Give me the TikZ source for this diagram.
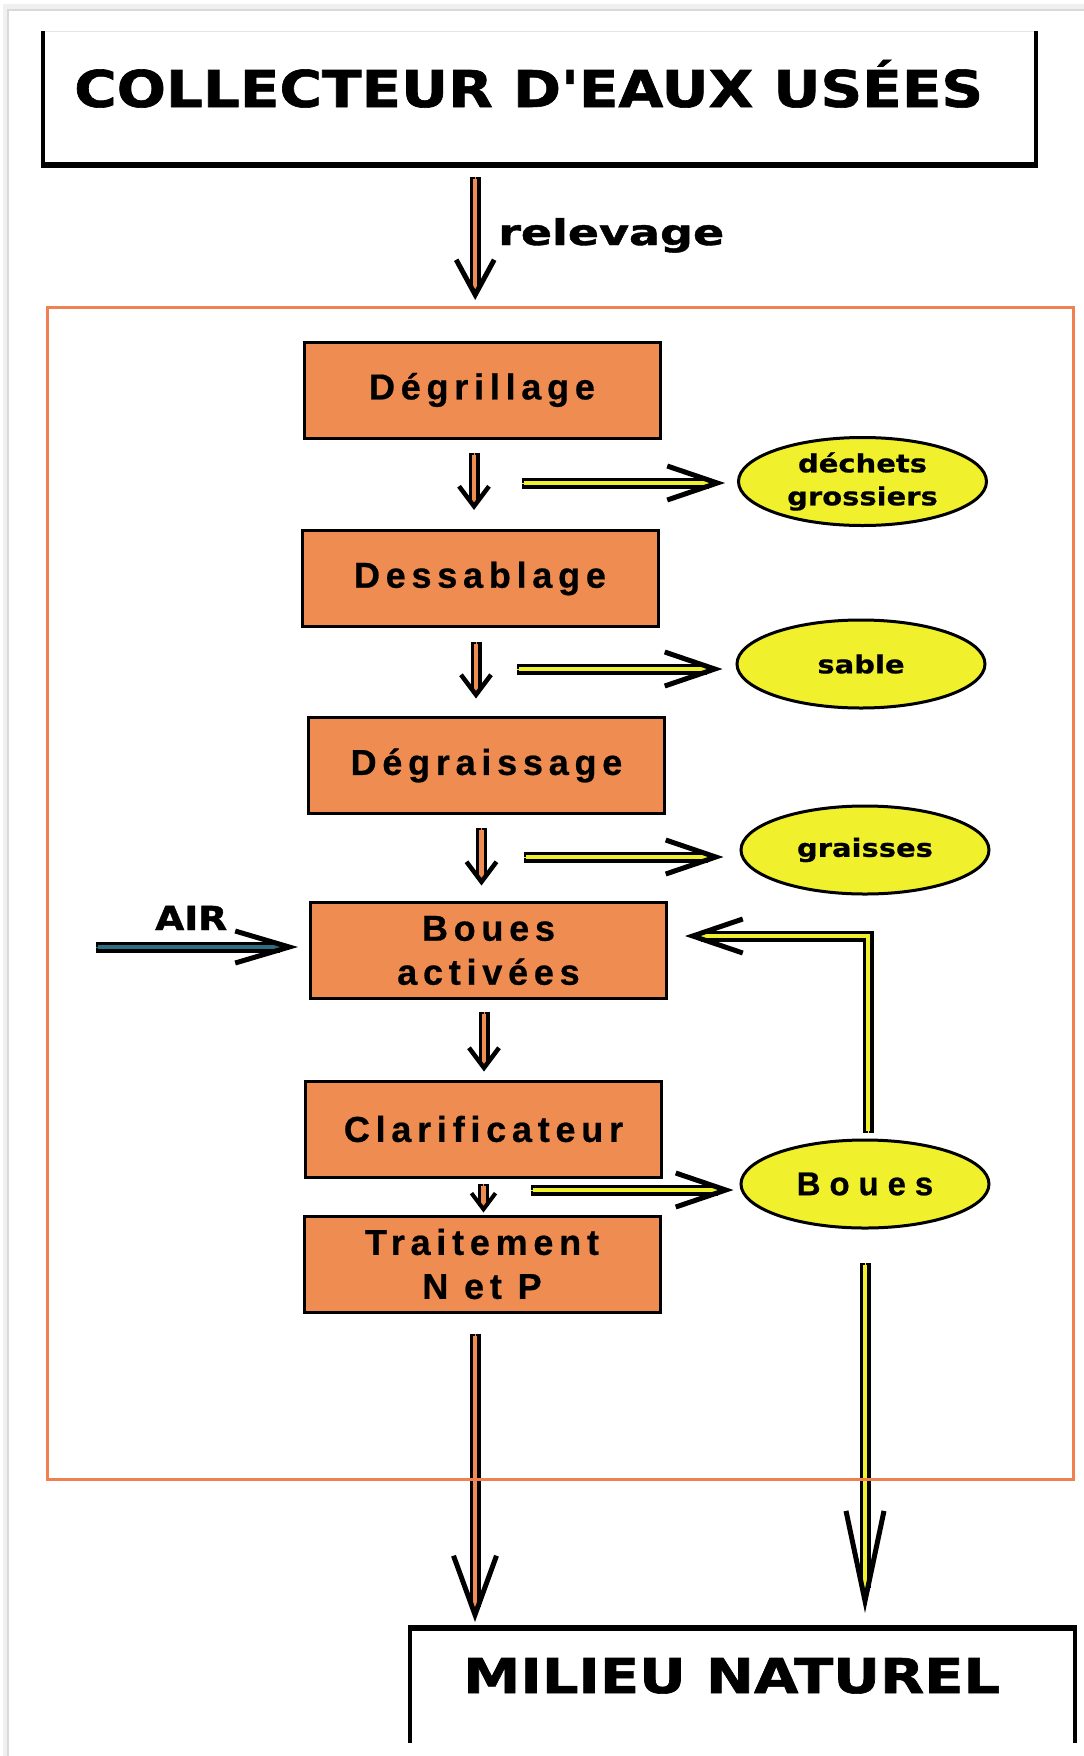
\documentclass[tikz,border=0pt]{standalone}
\usepackage{fontspec}
\usepackage{graphicx}
\usetikzlibrary{arrows.meta,calc,shapes.geometric}
\setmainfont{Liberation Sans}
\newfontfamily\boxfont[LetterSpace=16,FakeBold=0.6]{Liberation Sans}
\newfontfamily\bouesfont[LetterSpace=27,FakeBold=0.6]{Liberation Sans}
\newfontfamily\heavy[FakeBold=1.2]{DejaVu Sans}
\newfontfamily\heavywide[FakeStretch=1.16,FakeBold=0.6]{DejaVu Sans}
\definecolor{boxorange}{RGB}{238,140,82}
\definecolor{frameorange}{RGB}{240,128,80}
\definecolor{ylw}{RGB}{240,240,45}
\definecolor{airteal}{RGB}{45,110,130}
% #1 inner colour, #2 start, #3 tip, #4 tip style, #5 shaft shortening
\newcommand\flow[5]{%
  \draw[pipeout, shorten >=#5] (#2) -- (#3);
  \draw[pipein=#1, shorten >=#5] (#2) -- (#3);
  \draw[draw=#1, line width=0.5pt, #4] (#2) -- (#3);
}
\begin{document}
\begin{tikzpicture}[x=1pt,y=-1pt,
  proc/.style={rectangle, draw=black, line width=3pt, fill=boxorange,
    minimum width=356pt, minimum height=96pt, inner sep=0pt, align=center,
    font=\boxfont\bfseries\fontsize{36}{44}\selectfont},
  outcome/.style={ellipse, draw=black, line width=3pt, fill=ylw,
    minimum width=248pt, minimum height=88pt, inner sep=0pt, align=center,
    font=\heavywide\bfseries\fontsize{25}{33}\selectfont},
  pipeout/.style={draw=black, line width=11pt},
  pipein/.style={draw=#1, line width=4.5pt, shorten <=2pt},
  tipS/.style={-{Straight Barb[length=20pt,width=30pt,line width=4.5pt,color=black]}},
  tipC/.style={-{Straight Barb[length=16pt,width=24pt,line width=4pt,color=black]}},
  tipY/.style={-{Straight Barb[length=50pt,width=34pt,line width=5pt,color=black]}},
  tipR/.style={-{Straight Barb[length=35pt,width=38pt,line width=5pt,color=black]}},
  tipA/.style={-{Straight Barb[length=54pt,width=32pt,line width=5pt,color=black]}},
  tipL/.style={-{Straight Barb[length=59pt,width=43pt,line width=5pt,color=black]}},
  tipM/.style={-{Straight Barb[length=90pt,width=38pt,line width=5pt,color=black]}},
]
\useasboundingbox (0,0) rectangle (1084,1756);
\fill[white] (0,0) rectangle (1084,1756);
% paper edge
\draw[gray!12, line width=5pt] (5,1756) -- (5,6) -- (1084,6);
\draw[gray!30, line width=1.5pt] (8,1756) -- (8,10) -- (1084,10);

% top box
\node[minimum width=993.5pt, minimum height=134pt, inner sep=0pt, anchor=north west] (coll) at (42.5,31) {};
\draw[gray!20, line width=1pt] (coll.north west) -- (coll.north east);
\draw[line width=4pt] (coll.north west) -- (coll.south west);
\draw[line width=4pt] (coll.north east) -- (coll.south east);
\draw[line width=6pt] ([xshift=-2pt]coll.south west) -- ([xshift=2pt]coll.south east);
\node[anchor=base west, inner sep=0pt] (colltxt) at (74,107)
  {\resizebox{909pt}{\height}{\heavy\bfseries\fontsize{50.75}{60}\selectfont COLLECTEUR D'EAUX USÉES}};

% plant frame
\node[minimum width=1026pt, minimum height=1172pt, inner sep=0pt, anchor=north west] (plant) at (47,307) {};

% process boxes
\node[proc] (degr)  at (482,390)    {Dégrillage};
\node[proc] (dess)  at (480,578.5)  {Dessablage};
\node[proc] (degra) at (486.5,765.5){Dégraissage};
\node[proc] (boues) at (488.5,950.5){Boues\\activées};
\node[proc] (clar)  at (483.5,1129) {Clarificateur};
\node[proc] (trait) at (482,1264)   {Traitement\\N et P};

% outputs
\node[outcome] (dech) at (862.5,481.5) {déchets\\grossiers};
\node[outcome] (sab)  at (861,664)     {sable};
\node[outcome] (gra)  at (865,850)     {graisses};
\node[outcome, font=\bouesfont\bfseries\fontsize{33}{38}\selectfont] (bouesE) at (865,1184) {Boues};

% milieu naturel
\node[minimum width=665pt, minimum height=115pt, inner sep=0pt, anchor=north west] (milieu) at (410,1628) {};
\draw[line width=4pt] (milieu.north west) -- (milieu.south west);
\draw[line width=4pt] (milieu.north east) -- (milieu.south east);
\draw[line width=6pt] ([xshift=-2pt]milieu.north west) -- ([xshift=2pt]milieu.north east);
\node[anchor=base west, inner sep=0pt] (miltxt) at (463,1693)
  {\resizebox{537pt}{\height}{\heavy\bfseries\fontsize{48}{56}\selectfont MILIEU NATUREL}};

% labels
\node[anchor=base west, inner sep=0pt] (relev) at (498,245)
  {\resizebox{226pt}{\height}{\heavy\bfseries\fontsize{35.5}{42}\selectfont relevage}};
\node[anchor=base west, inner sep=0pt] (air) at (155,930)
  {\resizebox{72pt}{\height}{\heavy\bfseries\fontsize{33}{40}\selectfont AIR}};

% coordinates for connectors
\coordinate (r1) at ($(coll.south)+(-64.25,12)$);
\coordinate (r2) at ($(coll.south |- plant.north)+(-64.25,-7)$);
\coordinate (v1a) at ($(degr.south)+(-8,13)$);
\coordinate (v1b) at ($(degr.south |- dess.north)+(-8,-19)$);
\coordinate (v2a) at ($(dess.south)+(-4,14)$);
\coordinate (v2b) at ($(dess.south |- degra.north)+(-4,-17.5)$);
\coordinate (v3a) at ($(degra.south)+(-5,13)$);
\coordinate (v3b) at ($(degra.south |- boues.north)+(-5,-15.5)$);
\coordinate (v4a) at ($(boues.south)+(-4.5,11.5)$);
\coordinate (v4b) at ($(boues.south |- clar.north)+(-4.5,-8)$);
\coordinate (v5a) at ($(clar.south)+(0,5)$);
\coordinate (v5b) at ($(clar.south |- trait.north)+(0,-2)$);
\coordinate (v6a) at ($(trait.south)+(-7,20)$);
\coordinate (v6b) at ($(trait.south |- milieu.north)+(-7,-6)$);
\coordinate (y1a) at (522,483);
\coordinate (y1b) at ($(y1a -| dech.west)+(-12,0)$);
\coordinate (y2a) at (517,669);
\coordinate (y2b) at ($(y2a -| sab.west)+(-13,0)$);
\coordinate (y3a) at (524,857);
\coordinate (y3b) at ($(y3a -| gra.west)+(-16,0)$);
\coordinate (y4a) at (531,1190);
\coordinate (y4b) at ($(y4a -| bouesE.west)+(-6,0)$);
\coordinate (airA) at (96,947);
\coordinate (airB) at ($(airA -| boues.west)+(-11,0)$);
\coordinate (loopA) at ($(bouesE.north)+(3,-6)$);
\coordinate (loopB) at ($(boues.east)+(17,-14.5)$);
\coordinate (outA) at ($(bouesE.south)+(0,33)$);
\coordinate (outB) at ($(bouesE.south |- milieu.north)+(0,-15)$);

% connectors
\flow{boxorange}{r1}{r2}{tipR}{10pt}
\flow{boxorange}{v1a}{v1b}{tipS}{8pt}
\flow{boxorange}{v2a}{v2b}{tipS}{8pt}
\flow{boxorange}{v3a}{v3b}{tipS}{8pt}
\flow{boxorange}{v4a}{v4b}{tipS}{8pt}
\flow{boxorange}{v5a}{v5b}{tipC}{7pt}
\flow{boxorange}{v6a}{v6b}{tipL}{15pt}
\flow{ylw}{y1a}{y1b}{tipY}{16pt}
\flow{ylw}{y2a}{y2b}{tipY}{16pt}
\flow{ylw}{y3a}{y3b}{tipY}{16pt}
\flow{ylw}{y4a}{y4b}{tipY}{16pt}
\flow{airteal}{airA}{airB}{tipA}{18pt}
\flow{ylw}{outA}{outB}{tipM}{25pt}
\draw[pipeout, shorten >=16pt] (loopA) |- (loopB);
\draw[pipein=ylw, shorten >=16pt] (loopA) |- (loopB);
\draw[draw=ylw, line width=0.5pt, tipY] (loopA) |- (loopB);

% frame outline drawn on top
\draw[frameorange, line width=3pt] (plant.north west) rectangle (plant.south east);
\end{tikzpicture}
\end{document}
